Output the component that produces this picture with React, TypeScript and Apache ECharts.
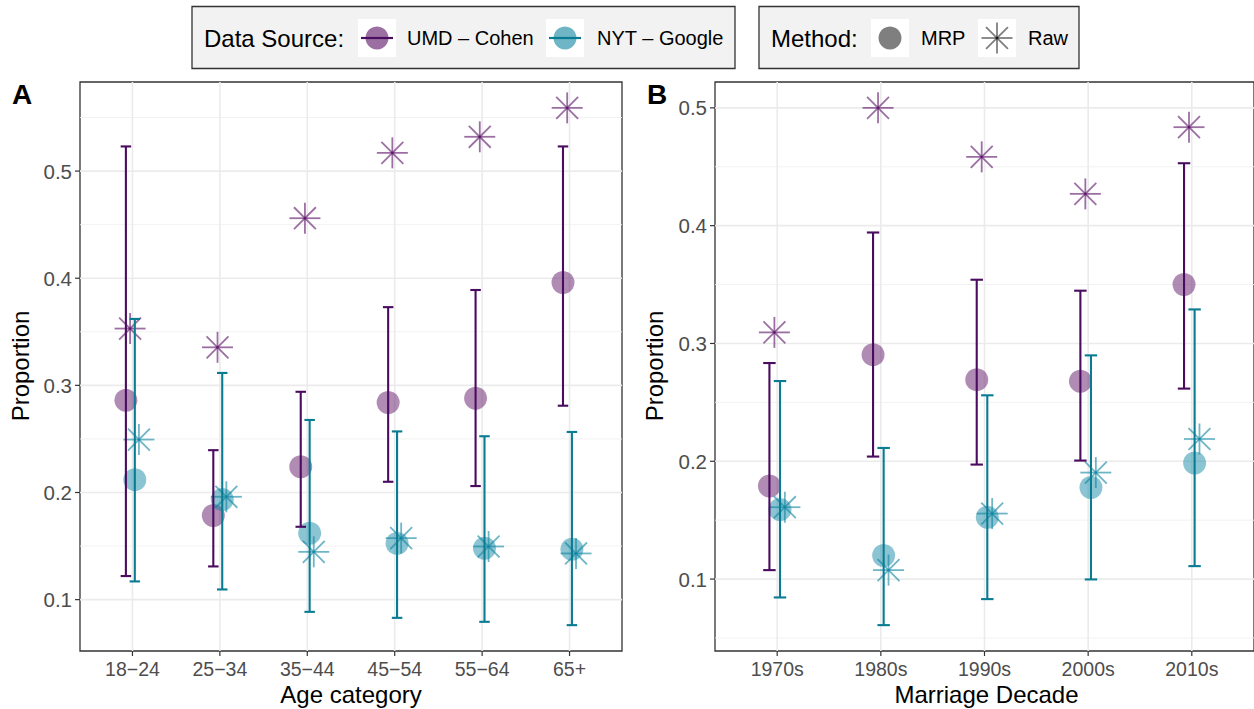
import React, { useEffect, useRef } from 'react';
import * as echarts from 'echarts';

// ---------- Data ----------
const ageCategories = ['18−24', '25−34', '35−44', '45−54', '55−64', '65+'];
const umdAgeMrp = [0.286, 0.1785, 0.224, 0.284, 0.288, 0.396];
const umdAgeLow = [0.122, 0.131, 0.168, 0.21, 0.206, 0.281];
const umdAgeHigh = [0.523, 0.2395, 0.294, 0.373, 0.389, 0.523];
const umdAgeRaw = [0.353, 0.3355, 0.456, 0.517, 0.532, 0.559];
const nytAgeMrp = [0.212, 0.1935, 0.162, 0.1525, 0.148, 0.147];
const nytAgeLow = [0.117, 0.1095, 0.0886, 0.083, 0.0793, 0.0762];
const nytAgeHigh = [0.362, 0.3116, 0.2677, 0.257, 0.2525, 0.2565];
const nytAgeRaw = [0.2494, 0.196, 0.1446, 0.1574, 0.1496, 0.1431];

const decadeCategories = ['1970s', '1980s', '1990s', '2000s', '2010s'];
const umdDecMrp = [0.179, 0.2905, 0.2693, 0.2679, 0.35];
const umdDecLow = [0.1076, 0.204, 0.1972, 0.2006, 0.2617];
const umdDecHigh = [0.2834, 0.3942, 0.3541, 0.3448, 0.453];
const umdDecRaw = [0.3094, 0.5, 0.4584, 0.427, 0.4836];
const nytDecMrp = [0.159, 0.12, 0.1525, 0.1777, 0.1986];
const nytDecLow = [0.0844, 0.0609, 0.083, 0.0997, 0.111];
const nytDecHigh = [0.2681, 0.2113, 0.256, 0.2899, 0.3289];
const nytDecRaw = [0.161, 0.1076, 0.1556, 0.1904, 0.2189];

const yMajorBreaks = [0.1, 0.2, 0.3, 0.4, 0.5];
const yMinorBreaksA = [0.15, 0.25, 0.35, 0.45, 0.55];
const yMinorBreaksB = [0.05, 0.15, 0.25, 0.35, 0.45];

// ---------- Styles ----------
const FONT = '"Liberation Sans", Arial, Helvetica, sans-serif';
const UMD_LINE = '#4A0C5E';
const NYT_LINE = '#097B93';
const UMD_FILL = 'rgba(90,15,101,0.6)';
const NYT_FILL = 'rgba(13,132,160,0.6)';
const GREY_FILL = 'rgba(0,0,0,0.5)';
const TICK_COLOR = '#333333';
const TICK_LEN = 5;
const DODGE = { umdMrp: -0.075, umdRaw: -0.027, nytMrp: 0.027, nytRaw: 0.074 };
const CAP_WIDTH = 0.12;
const STAR_R = 15.5;
const POINT_SIZE = 23;

function starChildren(cx: number, cy: number, color: string) {
  const kids: any[] = [];
  for (let k = 0; k < 4; k++) {
    const a = (k * Math.PI) / 4;
    const dx = Math.cos(a) * STAR_R;
    const dy = Math.sin(a) * STAR_R;
    kids.push({
      type: 'line',
      shape: { x1: cx - dx, y1: cy - dy, x2: cx + dx, y2: cy + dy },
      style: { stroke: color, lineWidth: 1.8 },
    });
  }
  return kids;
}

function buildPanel(
  gi: number,
  cats: string[],
  umd: { mrp: number[]; low: number[]; high: number[]; raw: number[] },
  nyt: { mrp: number[]; low: number[]; high: number[]; raw: number[] },
  minorBreaks: number[]
) {
  const all = [...umd.mrp, ...umd.low, ...umd.high, ...umd.raw, ...nyt.mrp, ...nyt.low, ...nyt.high, ...nyt.raw];
  const lo = Math.min(...all);
  const hi = Math.max(...all);
  const pad = (hi - lo) * 0.05;
  const yMin = lo - pad;
  const yMax = hi + pad;
  const xMin = -0.6;
  const xMax = cats.length - 1 + 0.6;
  const idx = cats.map((_, i) => i);

  const labelStyle = { hideOverlap: false, margin: 8, color: '#4D4D4D', fontSize: 19.5, fontFamily: FONT };
  const xAxis = {
    type: 'value',
    gridIndex: gi,
    min: xMin,
    max: xMax,
    axisLine: { show: false },
    splitLine: { show: false },
    axisTick: { show: false },
    axisLabel: {
      ...labelStyle,
      customValues: idx,
      formatter: (v: number) => (Math.abs(v - Math.round(v)) < 1e-6 ? cats[Math.round(v)] ?? '' : ''),
    },
  };
  const yAxis = {
    type: 'value',
    gridIndex: gi,
    min: yMin,
    max: yMax,
    axisLine: { show: false },
    splitLine: { show: false },
    axisTick: { show: false },
    axisLabel: {
      ...labelStyle,
      fontSize: 20.5,
      customValues: yMajorBreaks,
      formatter: (v: number) => (Math.abs(v * 10 - Math.round(v * 10)) < 1e-6 ? v.toFixed(1) : ''),
    },
  };

  const tickStyle = { stroke: TICK_COLOR, lineWidth: 1.2 };
  const hMinor = (params: any, api: any) => {
    const cs = params.coordSys;
    const y = api.coord([0, api.value(1)])[1];
    return { type: 'line', shape: { x1: cs.x, y1: y, x2: cs.x + cs.width, y2: y }, style: { stroke: '#F0F0F0', lineWidth: 0.9 } };
  };
  const hMajor = (params: any, api: any) => {
    const cs = params.coordSys;
    const y = api.coord([0, api.value(1)])[1];
    return {
      type: 'group',
      children: [
        { type: 'line', shape: { x1: cs.x, y1: y, x2: cs.x + cs.width, y2: y }, style: { stroke: '#EBEBEB', lineWidth: 1.6 } },
        { type: 'line', shape: { x1: cs.x - TICK_LEN, y1: y, x2: cs.x, y2: y }, style: tickStyle },
      ],
    };
  };
  const vMajor = (params: any, api: any) => {
    const cs = params.coordSys;
    const x = api.coord([api.value(0), yMin])[0];
    const yb = cs.y + cs.height;
    return {
      type: 'group',
      children: [
        { type: 'line', shape: { x1: x, y1: cs.y, x2: x, y2: yb }, style: { stroke: '#EBEBEB', lineWidth: 1.6 } },
        { type: 'line', shape: { x1: x, y1: yb, x2: x, y2: yb + TICK_LEN }, style: tickStyle },
      ],
    };
  };

  const errorBar = (color: string, dodge: number) => (params: any, api: any) => {
    const x = api.value(0) + dodge;
    const p1 = api.coord([x, api.value(2)]);
    const p2 = api.coord([x, api.value(1)]);
    const hw = api.size([CAP_WIDTH, 0])[0] / 2;
    const style = { stroke: color, lineWidth: 2.1 };
    return {
      type: 'group',
      children: [
        { type: 'line', shape: { x1: p1[0], y1: p1[1], x2: p2[0], y2: p2[1] }, style },
        { type: 'line', shape: { x1: p1[0] - hw, y1: p1[1], x2: p1[0] + hw, y2: p1[1] }, style },
        { type: 'line', shape: { x1: p2[0] - hw, y1: p2[1], x2: p2[0] + hw, y2: p2[1] }, style },
      ],
    };
  };
  const star = (color: string, dodge: number) => (params: any, api: any) => {
    const p = api.coord([api.value(0) + dodge, api.value(1)]);
    return { type: 'group', children: starChildren(p[0], p[1], color) };
  };

  const common = { xAxisIndex: gi, yAxisIndex: gi, silent: true };
  const series: any[] = [
    { ...common, type: 'custom', z: 0, clip: false, renderItem: hMinor, data: minorBreaks.filter((v) => v > yMin && v < yMax).map((v) => [0, v]) },
    { ...common, type: 'custom', z: 0, clip: false, renderItem: hMajor, data: yMajorBreaks.map((v) => [0, v]) },
    { ...common, type: 'custom', z: 0, clip: false, renderItem: vMajor, data: idx.map((i) => [i, yMin]) },
    {
      ...common, type: 'scatter', z: 2, symbol: 'circle', symbolSize: POINT_SIZE,
      itemStyle: { color: UMD_FILL }, data: umd.mrp.map((v, i) => [i + DODGE.umdMrp, v]),
    },
    {
      ...common, type: 'scatter', z: 2, symbol: 'circle', symbolSize: POINT_SIZE,
      itemStyle: { color: NYT_FILL }, data: nyt.mrp.map((v, i) => [i + DODGE.nytMrp, v]),
    },
    { ...common, type: 'custom', z: 3, renderItem: star(UMD_FILL, DODGE.umdRaw), data: umd.raw.map((v, i) => [i, v]) },
    { ...common, type: 'custom', z: 3, renderItem: star(NYT_FILL, DODGE.nytRaw), data: nyt.raw.map((v, i) => [i, v]) },
    {
      ...common, type: 'custom', z: 4, renderItem: errorBar(UMD_LINE, DODGE.umdMrp),
      encode: { x: 0, y: [1, 2] }, data: umd.low.map((v, i) => [i, v, umd.high[i]]),
    },
    {
      ...common, type: 'custom', z: 4, renderItem: errorBar(NYT_LINE, DODGE.nytMrp),
      encode: { x: 0, y: [1, 2] }, data: nyt.low.map((v, i) => [i, v, nyt.high[i]]),
    },
  ];
  return { xAxis, yAxis, series };
}

function text(x: number, y: number, s: string, size: number, opts: any = {}) {
  return {
    type: 'text',
    x,
    y,
    rotation: opts.rotation || 0,
    silent: true,
    style: {
      text: s,
      fill: opts.fill || '#000000',
      font: `${opts.weight || 'normal'} ${size}px ${FONT}`,
      textAlign: opts.align || 'left',
      textVerticalAlign: 'middle',
    },
  };
}

function legendGraphics() {
  const g: any[] = [];
  const box = (x: number, w: number) => ({
    type: 'rect',
    shape: { x, y: 6.5, width: w, height: 62 },
    style: { fill: '#F2F2F2', stroke: '#333333', lineWidth: 1.3 },
    silent: true,
  });
  const keyBg = (cx: number) => ({
    type: 'rect',
    shape: { x: cx - 19, y: 19, width: 38, height: 38 },
    style: { fill: '#FFFFFF' },
    silent: true,
  });
  const circle = (cx: number, fill: string) => ({
    type: 'circle',
    shape: { cx, cy: 38, r: POINT_SIZE / 2 },
    style: { fill },
    silent: true,
  });
  const hbar = (cx: number, stroke: string) => ({
    type: 'line',
    shape: { x1: cx - 16, y1: 38, x2: cx + 16, y2: 38 },
    style: { stroke, lineWidth: 2.2 },
    silent: true,
  });
  g.push(box(192, 543));
  g.push(text(204, 38, 'Data Source:', 24));
  g.push(keyBg(377), circle(377, UMD_FILL), hbar(377, UMD_LINE));
  g.push(text(407, 38, 'UMD – Cohen', 20));
  g.push(keyBg(565), circle(565, NYT_FILL), hbar(565, NYT_LINE));
  g.push(text(597, 38, 'NYT – Google', 20));

  g.push(box(759, 320));
  g.push(text(771, 38, 'Method:', 24));
  g.push(keyBg(890), circle(890, GREY_FILL));
  g.push(text(921, 38, 'MRP', 20));
  g.push(keyBg(997), { type: 'group', silent: true, children: starChildren(997, 38, GREY_FILL) });
  g.push(text(1028, 38, 'Raw', 20));
  return g;
}

export default function App() {
  const ref = useRef<HTMLDivElement>(null);
  useEffect(() => {
    if (!ref.current) return;
    const chart = echarts.init(ref.current, undefined, { renderer: 'svg' });
    const a = buildPanel(
      0,
      ageCategories,
      { mrp: umdAgeMrp, low: umdAgeLow, high: umdAgeHigh, raw: umdAgeRaw },
      { mrp: nytAgeMrp, low: nytAgeLow, high: nytAgeHigh, raw: nytAgeRaw },
      yMinorBreaksA
    );
    const b = buildPanel(
      1,
      decadeCategories,
      { mrp: umdDecMrp, low: umdDecLow, high: umdDecHigh, raw: umdDecRaw },
      { mrp: nytDecMrp, low: nytDecLow, high: nytDecHigh, raw: nytDecRaw },
      yMinorBreaksB
    );
    const gridStyle = { show: true, borderColor: '#333333', borderWidth: 1.3, backgroundColor: '#FFFFFF', containLabel: false };
    chart.setOption({
      animation: false,
      backgroundColor: '#FFFFFF',
      grid: [
        { ...gridStyle, left: 80, top: 82, width: 542, height: 569 },
        { ...gridStyle, left: 715, top: 82, width: 543, height: 569 },
      ],
      xAxis: [a.xAxis, b.xAxis],
      yAxis: [a.yAxis, b.yAxis],
      series: [...a.series, ...b.series],
      graphic: [
        ...legendGraphics(),
        text(12, 94, 'A', 28, { weight: 'bold' }),
        text(647, 94, 'B', 28, { weight: 'bold' }),
        text(351, 694, 'Age category', 24, { align: 'center' }),
        text(986.5, 694, 'Marriage Decade', 24, { align: 'center' }),
        text(20, 366, 'Proportion', 24, { align: 'center', rotation: Math.PI / 2 }),
        text(654, 366, 'Proportion', 24, { align: 'center', rotation: Math.PI / 2 }),
      ],
    });
    return () => chart.dispose();
  }, []);
  return <div ref={ref} style={{ position: 'fixed', left: 0, top: 0, width: 1254, height: 709 }} />;
}
